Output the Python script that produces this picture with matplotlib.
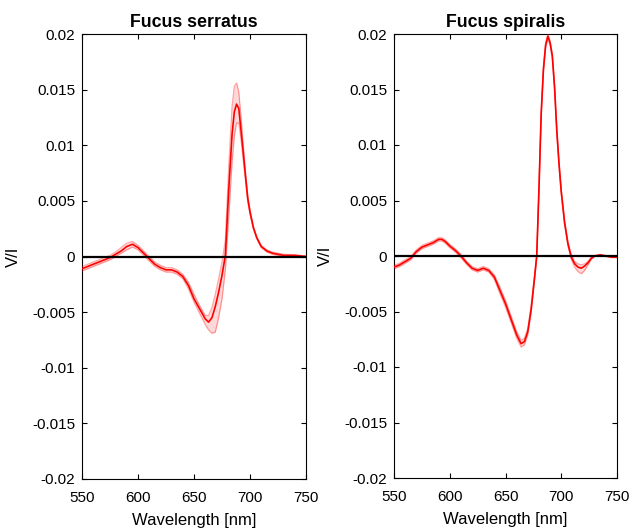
import numpy as np
import matplotlib
matplotlib.use("Agg")
import matplotlib.pyplot as plt

plt.rcParams['font.family'] = ['Liberation Sans', 'DejaVu Sans']

# ---------------- data (values x 1e-4) ----------------
wl_serratus = [550, 555, 560, 565, 570, 575, 580, 585, 590, 595, 600, 605, 610, 615,
               620, 625, 630, 635, 640, 645, 650, 655, 660, 663, 666, 669, 672, 675,
               678, 681, 684, 686, 688, 690, 692, 694, 696, 698, 700, 703, 706, 710,
               715, 720, 725, 730, 740, 750]
mean_serratus = [-11, -9, -7, -5, -3, -1, 2, 5, 9, 11, 8, 3, -2, -7,
                 -10, -12, -12, -14, -18, -26, -38, -47, -56, -59, -55, -45, -32, -17,
                 1, 60, 110, 130, 137, 133, 113, 93, 72, 52, 40, 26, 17, 9,
                 5, 3, 2, 1, 1, 0]
upper_serratus = [-9, -7, -5, -3, -1, 1, 4, 8, 12, 13.5, 10, 5, 0, -5,
                  -8, -10, -10, -12, -16, -23, -34, -44, -53, -53, -46, -34, -20, -5,
                  15, 80, 135, 153, 156, 148, 125, 100, 76, 55, 42, 27, 18, 10,
                  6, 4, 3, 2, 1.5, 0.5]
lower_serratus = [-13, -11, -9, -7, -5, -3, 0, 3, 6, 8.5, 6, 1, -4, -9,
                  -12, -14, -14, -16, -20, -29, -41, -51, -61, -66, -69, -68, -55, -38,
                  -12, 35, 85, 108, 120, 120, 105, 86, 68, 49, 38, 25, 16, 8,
                  4, 2, 1, 0, 0, -0.5]

wl_spiralis = [550, 555, 560, 565, 570, 575, 580, 585, 590, 593, 596, 600, 605, 610,
               615, 620, 625, 630, 635, 640, 645, 650, 655, 660, 664, 667, 670, 673,
               676, 678, 680, 682, 684, 686, 688, 690, 692, 694, 696, 698, 700, 703,
               706, 709, 712, 715, 718, 721, 724, 727, 730, 735, 740, 745, 750]
mean_spiralis = [-10, -8, -5, -2, 4, 8, 10, 12, 15, 15, 13, 9, 5, 0,
                 -6, -11, -13, -11, -13, -19, -31, -43, -57, -71, -79, -77, -68, -48,
                 -20, 0, 60, 128, 168, 190, 198, 192, 180, 152, 113, 83, 58, 30,
                 11, -1, -7, -10, -11, -9, -6, -2, 0, 1, 0, -1, -1]
upper_spiralis = [-8.5, -6.5, -3.5, -0.5, 5.5, 9.5, 11.5, 13.5, 16.5, 16.5, 14.5, 10.5, 6.5, 1.5,
                  -4.5, -9.5, -11.5, -9.5, -11.5, -17, -28, -40, -54, -68, -76, -74, -65, -45,
                  -18, 2, 62, 130, 170, 192, 200, 194, 182, 154, 115, 85, 60, 32,
                  13, 1, -5, -7, -8, -7, -5, -1, 0.5, 1.5, 0.5, -0.5, -0.5]
lower_spiralis = [-11.5, -9.5, -6.5, -3.5, 2.5, 6.5, 8.5, 10.5, 13.5, 13.5, 11.5, 7.5, 3.5, -1.5,
                  -7.5, -12.5, -14.5, -12.5, -14.5, -21, -34, -46, -60, -74, -82, -80, -71, -51,
                  -22, -2, 58, 126, 166, 188, 196, 190, 178, 150, 111, 81, 56, 28,
                  9, -3, -10, -14, -16, -13, -8, -3, -0.5, 0.5, -0.5, -1.5, -1.5]

titles = ["Fucus serratus", "Fucus spiralis"]
xticks = [550, 600, 650, 700, 750]
yticks = [-0.02, -0.015, -0.01, -0.005, 0, 0.005, 0.01, 0.015, 0.02]
ytick_labels = ["-0.02", "-0.015", "-0.01", "-0.005", "0", "0.005", "0.01", "0.015", "0.02"]

panels = [
    (wl_serratus, mean_serratus, upper_serratus, lower_serratus),
    (wl_spiralis, mean_spiralis, upper_spiralis, lower_spiralis),
]

fig = plt.figure(figsize=(6.32, 5.30), dpi=100)
axes_pos = [[82 / 632, 51 / 530, 224 / 632, 445 / 530],
            [394 / 632, 52 / 530, 223 / 632, 444 / 530]]

for pos, title, (wl, m, up, lo) in zip(axes_pos, titles, panels):
    ax = fig.add_axes(pos)
    wl = np.asarray(wl, float)
    m = np.asarray(m, float) * 1e-4
    up = np.asarray(up, float) * 1e-4
    lo = np.asarray(lo, float) * 1e-4
    ax.fill_between(wl, lo, up, color='#ff0000', alpha=0.15, linewidth=0, zorder=2)
    ax.plot(wl, up, color='#ff0000', alpha=0.35, lw=0.9, zorder=3)
    ax.plot(wl, lo, color='#ff0000', alpha=0.35, lw=0.9, zorder=3)
    ax.plot(wl, m, color='#ff0000', lw=1.2, zorder=4)
    ax.axhline(0, color='black', lw=1.6, zorder=5)
    ax.set_xlim(550, 750)
    ax.set_ylim(-0.02, 0.02)
    ax.set_xticks(xticks)
    ax.set_xticklabels([str(t) for t in xticks])
    ax.set_yticks(yticks)
    ax.set_yticklabels(ytick_labels)
    ax.tick_params(direction='in', top=True, right=True, length=3.5, width=0.8,
                   labelsize=11)
    ax.tick_params(axis='x', pad=8.5)
    ax.tick_params(axis='y', pad=5)
    for s in ax.spines.values():
        s.set_linewidth(0.8)
    ax.set_title(title, fontsize=12.8, fontweight='bold', pad=5)
    ax.set_xlabel("Wavelength [nm]", fontsize=12, labelpad=6)
    ax.set_ylabel("V/I", fontsize=12, labelpad=8)

fig.savefig("out.png", dpi=100)
